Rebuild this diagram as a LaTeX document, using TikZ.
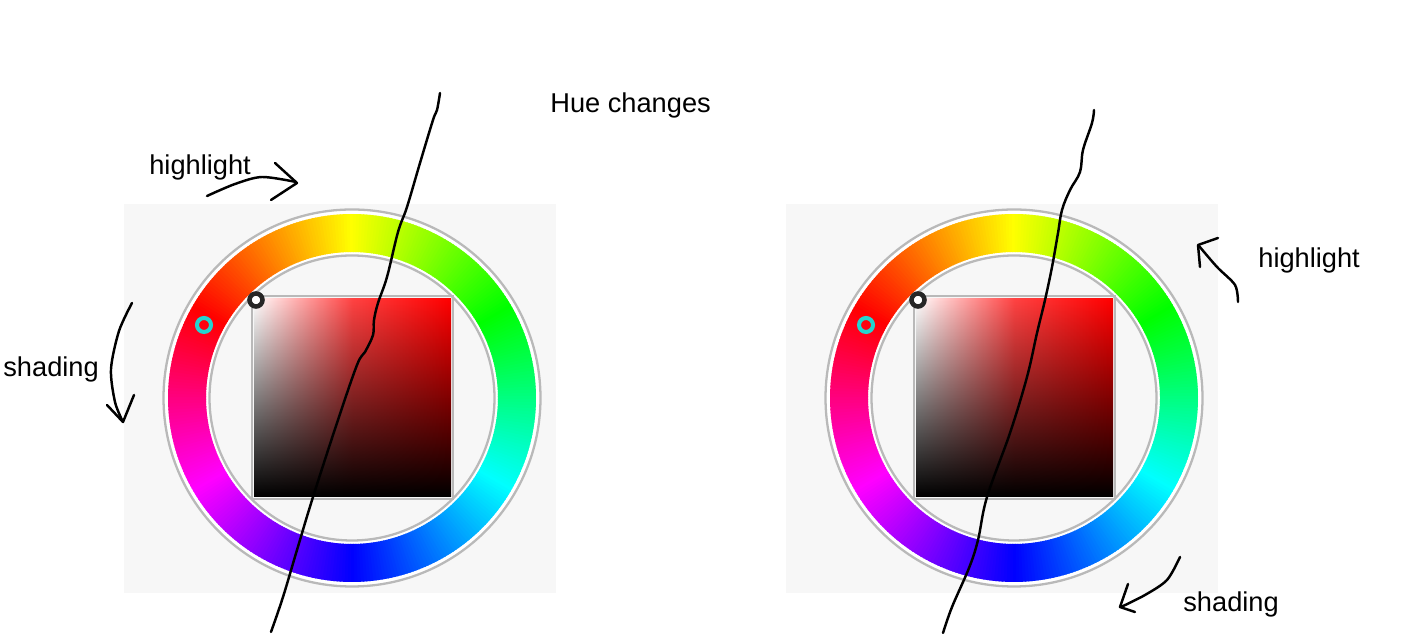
\documentclass[tikz,border=0pt]{standalone}
\usepackage{fontspec}
\setmainfont{Liberation Sans}
\usepackage{tikz}
\usetikzlibrary{fadings}

\definecolor{hintergrund}{RGB}{247,247,247}
\definecolor{ringgrau}{RGB}{185,185,185}
\definecolor{markercyan}{RGB}{35,212,208}

\tikzfading[name=weiss, left color=transparent!0, right color=transparent!100, middle color=transparent!74]

\tikzset{
	strich/.style={black, line width=1.4pt, line cap=round, line join=round},
	beschriftung/.style={anchor=base west, inner sep=0pt, font=\fontsize{15.5}{18}\selectfont},
}

\begin{document}
\begin{tikzpicture}[x=0.02cm, y=0.02cm]
			\useasboundingbox (0,0) rectangle (1409,634);
			
			% Farbkreise (links und rechts gleich)
			\foreach \ox in {0,662} {
				\begin{scope}[shift={(\ox,0)}]
					\fill[hintergrund] (124,41) rectangle (556,430);
					\begin{scope}[shift={(352,236)}]
						\fill[white] (0,0) circle[radius=187.5];
						\fill[hintergrund] (0,0) circle[radius=143.5];
						\draw[ringgrau, line width=1.3pt] (0,0) circle[radius=188.5];
						\draw[ringgrau, line width=1.3pt] (0,0) circle[radius=142.5];
						% Farbtonring
						\foreach \h in {0,...,359} {
							\definecolor{hc}{Hsb}{\h,1,1}
							\pgfmathsetmacro{\winkel}{150-\h}
							\fill[hc] (\winkel+0.7:146) -- (\winkel+0.7:184)
								arc[start angle=\winkel+0.7, end angle=\winkel-0.7, radius=184]
								-- (\winkel-0.7:146)
								arc[start angle=\winkel-0.7, end angle=\winkel+0.7, radius=146] -- cycle;
						}
					\end{scope}
					% Saettigung / Helligkeit
					\draw[ringgrau, line width=1.1pt] (252,135) rectangle (453,338);
					\shade[top color=red, bottom color=black] (254,137) rectangle (451,335);
					\shade[top color=white, bottom color=black, path fading=weiss] (254,137) rectangle (451,335);
					% Marker
					\draw[black!85, line width=2.6pt, fill=white] (256,334) circle[radius=6.5];
					\draw[markercyan, line width=2.3pt] (204,309) circle[radius=7];
				\end{scope}
			}
			
			% Striche
			\draw[strich] plot[smooth, tension=0.6] coordinates {(440,541) (437,524) (433,514) (420,471) (407,427) (398,402) (387,357) (378,331) (374,314) (373,299) (365,282) (357,269) (337,211) (313,137) (297,84) (283,37) (271,2)};
			\draw[strich] plot[smooth, tension=0.6] coordinates {(1094,524) (1092,511) (1083,484) (1080,462) (1070,444) (1062,424) (1058,401) (1052,367) (1045,334) (1037,301) (1027,257) (1010,201) (987,137) (978,94) (969,66) (952,27) (943,1)};
			
			% Pfeile links
			\draw[strich] plot[smooth] coordinates {(207,438) (235,450) (262,457) (296,452)};
			\draw[strich] (275,471) -- (297,451) -- (271,434);
			\draw[strich] plot[smooth] coordinates {(132,331) (119,303) (111,265) (115,232) (123,212)};
			\draw[strich] (107,229) -- (123,212) -- (134,239);
			
			% Pfeile rechts
			\draw[strich] plot[smooth] coordinates {(1238,332) (1235,349) (1217,367) (1199,388)};
			\draw[strich] (1218,396) -- (1198,389) -- (1200,367);
			\draw[strich] plot[smooth] coordinates {(1180,77) (1167,54) (1145,39) (1121,27)};
			\draw[strich] (1128,50) -- (1120,27) -- (1135,22);
			
			% Beschriftung
			\node[beschriftung] (farbton) at (550,521) {Hue changes};
			\node[beschriftung] (licht links) at (149,459) {highlight};
			\node[beschriftung] (schatten links) at (3,257) {shading};
			\node[beschriftung] (licht rechts) at (1258,366) {highlight};
			\node[beschriftung] (schatten rechts) at (1183,22) {shading};
		\end{tikzpicture}
\end{document}
